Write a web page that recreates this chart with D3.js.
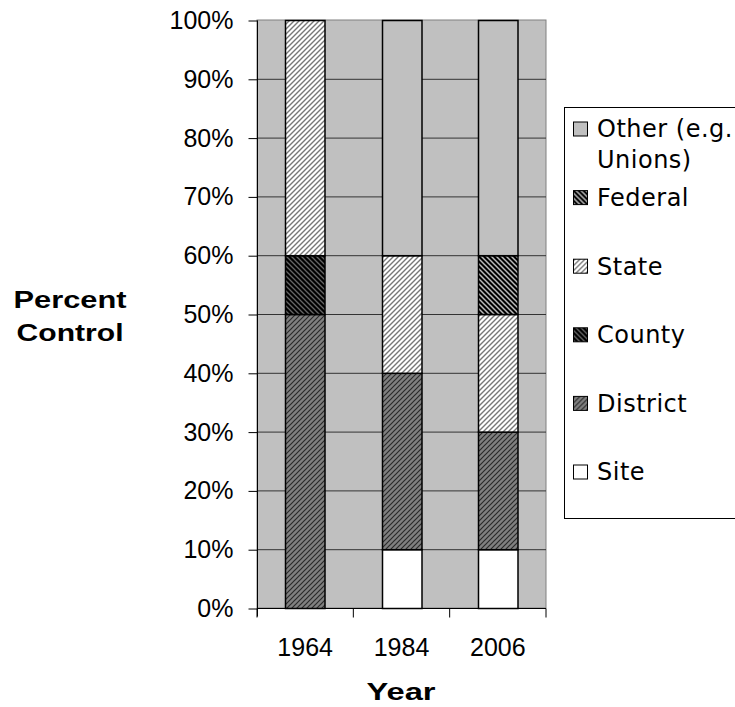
<!DOCTYPE html>
<html>
<head>
<meta charset="utf-8">
<script src="https://cdn.jsdelivr.net/npm/d3@7"></script>
<style>
    body { margin: 0; background: #fff; }
    svg { display: block; }
</style>
</head>
<body>
<div id="chart"></div>
<script>
(function () {
    'use strict';

    // data (percent of control)
    var years = ["1964", "1984", "2006"];
    var site = [0, 10, 10];
    var district = [50, 30, 20];
    var county = [10, 0, 0];
    var state = [40, 20, 20];
    var federal = [0, 0, 10];
    var other = [0, 40, 40];
    var yTicks = [0, 10, 20, 30, 40, 50, 60, 70, 80, 90, 100];

    // stack order bottom -> top
    var series = [
        { id: "Site", values: site, fill: "#fff" },
        { id: "District", values: district, fill: "url(#pDistrict)" },
        { id: "County", values: county, fill: "url(#pCounty)" },
        { id: "State", values: state, fill: "url(#pState)" },
        { id: "Federal", values: federal, fill: "url(#pFederal)" },
        { id: "Other (e.g.|Unions)", values: other, fill: "#c0c0c0" }
    ];

    var w = 735,
        h = 707;

    var svg = d3.select("#chart")
        .append("svg")
        .attr("width", w)
        .attr("height", h);

    // hatch patterns
    var defs = svg.append("defs");
    function hatch(id, bg, fg, sw, dir) {
        var p = defs.append("pattern")
            .attr("id", id)
            .attr("patternUnits", "userSpaceOnUse")
            .attr("width", 5)
            .attr("height", 5);
        p.append("rect").attr("width", 5).attr("height", 5).attr("fill", bg);
        p.append("path")
            .attr("d", dir === "up"
                ? "M0,5L5,0M-1,1L1,-1M4,6L6,4"
                : "M0,0L5,5M-1,4L1,6M4,-1L6,1")
            .attr("stroke", fg)
            .attr("stroke-width", sw);
    }
    hatch("pDistrict", "#808080", "#2a2a2a", 1.2, "up");
    hatch("pCounty", "#000", "#666", 1.3, "down");
    hatch("pState", "#fff", "#777", 1.4, "up");
    hatch("pFederal", "#000", "#bbb", 1.5, "down");

    var left = 257, right = 546, top = 20, bottom = 608;

    var xCat = d3.scaleBand().domain(years).range([left, right]).padding(0);
    var x = d3.scaleBand().domain(years).range([left, right])
        .paddingInner(0.59).paddingOuter(0.295);
    var y = d3.scaleLinear().domain([0, 100]).range([bottom, top]);

    // plot area
    svg.append("rect")
        .attr("x", left)
        .attr("y", top)
        .attr("width", right - left)
        .attr("height", bottom - top)
        .attr("fill", "#c0c0c0")
        .attr("stroke", "#808080");

    // gridlines
    svg.append("g")
        .selectAll("line")
        .data(yTicks.slice(1, -1))
        .enter().append("line")
        .attr("x1", left)
        .attr("x2", right)
        .attr("y1", function (d) { return y(d) + 0.5; })
        .attr("y2", function (d) { return y(d) + 0.5; })
        .attr("stroke", "#333");

    // stacked bars
    var stack = d3.stack()
        .keys(series.map(function (s) { return s.id; }))
        .value(function (d, key) {
            var s = series.filter(function (t) { return t.id === key; })[0];
            return s.values[years.indexOf(d)];
        });
    var layers = stack(years);

    svg.append("g")
        .selectAll("g")
        .data(layers)
        .enter().append("g")
        .attr("fill", function (d, i) { return series[i].fill; })
        .selectAll("rect")
        .data(function (d) { return d.filter(function (v) { return v[1] > v[0]; }); })
        .enter().append("rect")
        .attr("x", function (d) { return Math.round(x(d.data)) + 0.5; })
        .attr("y", function (d) { return y(d[1]) + 0.5; })
        .attr("width", x.bandwidth())
        .attr("height", function (d) { return y(d[0]) - y(d[1]); })
        .attr("stroke", "#000")
        .attr("stroke-width", 1.5);

    // y axis
    var yAxis = svg.append("g")
        .attr("transform", "translate(" + (left + 0.5) + ",0.5)")
        .call(d3.axisLeft(y).tickValues(yTicks).tickSize(9).tickPadding(15)
            .tickFormat(function (d) { return d + "%"; }));
    yAxis.select(".domain").attr("stroke", "#000").attr("d", "M0," + top + "V" + (bottom + 8));
    yAxis.selectAll(".tick line").attr("stroke", "#000");
    yAxis.selectAll("text")
        .attr("fill", "#000")
        .style("font", "25px 'Liberation Sans', Arial, sans-serif");

    // x axis with ticks on category boundaries
    var xAxis = svg.append("g")
        .attr("transform", "translate(0," + (bottom + 0.5) + ")");
    xAxis.append("line")
        .attr("x1", left)
        .attr("x2", right)
        .attr("stroke", "#000");
    xAxis.selectAll(".bt")
        .data(years.concat([null]))
        .enter().append("line")
        .attr("class", "bt")
        .attr("x1", function (d) { return d === null ? right : xCat(d); })
        .attr("x2", function (d) { return d === null ? right : xCat(d); })
        .attr("y1", 0)
        .attr("y2", 9)
        .attr("stroke", "#000");
    xAxis.selectAll("text")
        .data(years)
        .enter().append("text")
        .attr("x", function (d) { return xCat(d) + xCat.bandwidth() / 2; })
        .attr("y", 39)
        .attr("dy", "0.35em")
        .attr("text-anchor", "middle")
        .style("font", "25px 'Liberation Sans', Arial, sans-serif")
        .text(function (d) { return d; });

    // axis titles
    var titleFont = "bold 24px 'Liberation Sans', Arial, sans-serif";
    svg.append("text")
        .attr("x", 401)
        .attr("y", 692)
        .attr("dy", "0.35em")
        .attr("text-anchor", "middle")
        .attr("textLength", 69)
        .attr("lengthAdjust", "spacingAndGlyphs")
        .style("font", titleFont)
        .text("Year");
    [["Percent", 300, 113], ["Control", 333, 107]].forEach(function (t) {
        svg.append("text")
            .attr("x", 70)
            .attr("y", t[1])
            .attr("dy", "0.35em")
            .attr("text-anchor", "middle")
            .attr("textLength", t[2])
            .attr("lengthAdjust", "spacingAndGlyphs")
            .style("font", titleFont)
            .text(t[0]);
    });

    // legend, top entry first
    var legend = svg.append("g");
    legend.append("rect")
        .attr("x", 564.5)
        .attr("y", 107.5)
        .attr("width", 200)
        .attr("height", 411)
        .attr("fill", "#fff")
        .attr("stroke", "#000");

    var item = legend.selectAll(".item")
        .data(series.slice().reverse())
        .enter().append("g")
        .attr("class", "item")
        .attr("transform", function (d, i) { return "translate(573," + (129 + i * 68.6) + ")"; });
    item.append("rect")
        .attr("x", 0.5)
        .attr("y", -7)
        .attr("width", 14)
        .attr("height", 14)
        .attr("fill", function (d) { return d.fill; })
        .attr("stroke", "#000");
    item.append("text")
        .style("font", "24px 'DejaVu Sans', Verdana, sans-serif")
        .style("letter-spacing", "0.5px")
        .selectAll("tspan")
        .data(function (d) { return d.id.split("|"); })
        .enter().append("tspan")
        .attr("x", 24)
        .attr("y", function (d, i) { return i * 31; })
        .attr("dy", "0.35em")
        .text(function (d) { return d; });
})();
</script>
</body>
</html>
